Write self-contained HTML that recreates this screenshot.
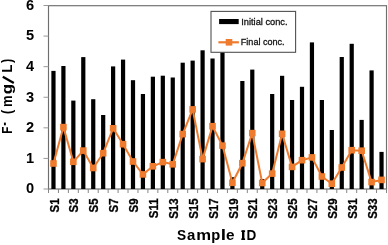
<!DOCTYPE html>
<html><head><meta charset="utf-8"><style>
html,body{margin:0;padding:0;background:#fff;}
body{width:388px;height:245px;overflow:hidden;}
svg{display:block;font-family:"Liberation Sans",sans-serif;}
text{filter:grayscale(1);}
</style></head><body>
<svg width="388" height="245" viewBox="0 0 388 245">
<rect width="388" height="245" fill="#fff"/>
<rect x="48.5" y="5.7" width="338.00" height="183.30" fill="none" stroke="#6e6e6e" stroke-width="1.15"/>
<line x1="43.5" y1="189.00" x2="48.5" y2="189.00" stroke="#999" stroke-width="1"/>
<line x1="43.5" y1="158.42" x2="48.5" y2="158.42" stroke="#999" stroke-width="1"/>
<line x1="43.5" y1="127.83" x2="48.5" y2="127.83" stroke="#999" stroke-width="1"/>
<line x1="43.5" y1="97.25" x2="48.5" y2="97.25" stroke="#999" stroke-width="1"/>
<line x1="43.5" y1="66.67" x2="48.5" y2="66.67" stroke="#999" stroke-width="1"/>
<line x1="43.5" y1="36.08" x2="48.5" y2="36.08" stroke="#999" stroke-width="1"/>
<line x1="43.5" y1="5.50" x2="48.5" y2="5.50" stroke="#999" stroke-width="1"/>
<line x1="48.50" y1="189.0" x2="48.50" y2="193.0" stroke="#868686" stroke-width="1"/>
<line x1="58.44" y1="189.0" x2="58.44" y2="193.0" stroke="#868686" stroke-width="1"/>
<line x1="68.38" y1="189.0" x2="68.38" y2="193.0" stroke="#868686" stroke-width="1"/>
<line x1="78.32" y1="189.0" x2="78.32" y2="193.0" stroke="#868686" stroke-width="1"/>
<line x1="88.26" y1="189.0" x2="88.26" y2="193.0" stroke="#868686" stroke-width="1"/>
<line x1="98.21" y1="189.0" x2="98.21" y2="193.0" stroke="#868686" stroke-width="1"/>
<line x1="108.15" y1="189.0" x2="108.15" y2="193.0" stroke="#868686" stroke-width="1"/>
<line x1="118.09" y1="189.0" x2="118.09" y2="193.0" stroke="#868686" stroke-width="1"/>
<line x1="128.03" y1="189.0" x2="128.03" y2="193.0" stroke="#868686" stroke-width="1"/>
<line x1="137.97" y1="189.0" x2="137.97" y2="193.0" stroke="#868686" stroke-width="1"/>
<line x1="147.91" y1="189.0" x2="147.91" y2="193.0" stroke="#868686" stroke-width="1"/>
<line x1="157.85" y1="189.0" x2="157.85" y2="193.0" stroke="#868686" stroke-width="1"/>
<line x1="167.79" y1="189.0" x2="167.79" y2="193.0" stroke="#868686" stroke-width="1"/>
<line x1="177.74" y1="189.0" x2="177.74" y2="193.0" stroke="#868686" stroke-width="1"/>
<line x1="187.68" y1="189.0" x2="187.68" y2="193.0" stroke="#868686" stroke-width="1"/>
<line x1="197.62" y1="189.0" x2="197.62" y2="193.0" stroke="#868686" stroke-width="1"/>
<line x1="207.56" y1="189.0" x2="207.56" y2="193.0" stroke="#868686" stroke-width="1"/>
<line x1="217.50" y1="189.0" x2="217.50" y2="193.0" stroke="#868686" stroke-width="1"/>
<line x1="227.44" y1="189.0" x2="227.44" y2="193.0" stroke="#868686" stroke-width="1"/>
<line x1="237.38" y1="189.0" x2="237.38" y2="193.0" stroke="#868686" stroke-width="1"/>
<line x1="247.32" y1="189.0" x2="247.32" y2="193.0" stroke="#868686" stroke-width="1"/>
<line x1="257.26" y1="189.0" x2="257.26" y2="193.0" stroke="#868686" stroke-width="1"/>
<line x1="267.21" y1="189.0" x2="267.21" y2="193.0" stroke="#868686" stroke-width="1"/>
<line x1="277.15" y1="189.0" x2="277.15" y2="193.0" stroke="#868686" stroke-width="1"/>
<line x1="287.09" y1="189.0" x2="287.09" y2="193.0" stroke="#868686" stroke-width="1"/>
<line x1="297.03" y1="189.0" x2="297.03" y2="193.0" stroke="#868686" stroke-width="1"/>
<line x1="306.97" y1="189.0" x2="306.97" y2="193.0" stroke="#868686" stroke-width="1"/>
<line x1="316.91" y1="189.0" x2="316.91" y2="193.0" stroke="#868686" stroke-width="1"/>
<line x1="326.85" y1="189.0" x2="326.85" y2="193.0" stroke="#868686" stroke-width="1"/>
<line x1="336.79" y1="189.0" x2="336.79" y2="193.0" stroke="#868686" stroke-width="1"/>
<line x1="346.74" y1="189.0" x2="346.74" y2="193.0" stroke="#868686" stroke-width="1"/>
<line x1="356.68" y1="189.0" x2="356.68" y2="193.0" stroke="#868686" stroke-width="1"/>
<line x1="366.62" y1="189.0" x2="366.62" y2="193.0" stroke="#868686" stroke-width="1"/>
<line x1="376.56" y1="189.0" x2="376.56" y2="193.0" stroke="#868686" stroke-width="1"/>
<line x1="386.50" y1="189.0" x2="386.50" y2="193.0" stroke="#868686" stroke-width="1"/>
<rect x="51.37" y="70.90" width="4.2" height="118.10" fill="#000"/>
<rect x="61.31" y="66.00" width="4.2" height="123.00" fill="#000"/>
<rect x="71.25" y="100.60" width="4.2" height="88.40" fill="#000"/>
<rect x="81.19" y="57.10" width="4.2" height="131.90" fill="#000"/>
<rect x="91.14" y="99.20" width="4.2" height="89.80" fill="#000"/>
<rect x="101.08" y="115.00" width="4.2" height="74.00" fill="#000"/>
<rect x="111.02" y="66.40" width="4.2" height="122.60" fill="#000"/>
<rect x="120.96" y="59.60" width="4.2" height="129.40" fill="#000"/>
<rect x="130.90" y="80.20" width="4.2" height="108.80" fill="#000"/>
<rect x="140.84" y="94.00" width="4.2" height="95.00" fill="#000"/>
<rect x="150.78" y="76.70" width="4.2" height="112.30" fill="#000"/>
<rect x="160.72" y="75.70" width="4.2" height="113.30" fill="#000"/>
<rect x="170.66" y="77.50" width="4.2" height="111.50" fill="#000"/>
<rect x="180.61" y="62.70" width="4.2" height="126.30" fill="#000"/>
<rect x="190.55" y="60.60" width="4.2" height="128.40" fill="#000"/>
<rect x="200.49" y="50.30" width="4.2" height="138.70" fill="#000"/>
<rect x="210.43" y="58.50" width="4.2" height="130.50" fill="#000"/>
<rect x="220.37" y="40.00" width="4.2" height="149.00" fill="#000"/>
<rect x="230.31" y="177.20" width="4.2" height="11.80" fill="#000"/>
<rect x="240.25" y="81.00" width="4.2" height="108.00" fill="#000"/>
<rect x="250.19" y="69.60" width="4.2" height="119.40" fill="#000"/>
<rect x="260.14" y="179.00" width="4.2" height="10.00" fill="#000"/>
<rect x="270.08" y="94.00" width="4.2" height="95.00" fill="#000"/>
<rect x="280.02" y="75.80" width="4.2" height="113.20" fill="#000"/>
<rect x="289.96" y="100.00" width="4.2" height="89.00" fill="#000"/>
<rect x="299.90" y="86.80" width="4.2" height="102.20" fill="#000"/>
<rect x="309.84" y="42.40" width="4.2" height="146.60" fill="#000"/>
<rect x="319.78" y="100.00" width="4.2" height="89.00" fill="#000"/>
<rect x="329.72" y="130.00" width="4.2" height="59.00" fill="#000"/>
<rect x="339.66" y="57.00" width="4.2" height="132.00" fill="#000"/>
<rect x="349.61" y="43.80" width="4.2" height="145.20" fill="#000"/>
<rect x="359.55" y="119.90" width="4.2" height="69.10" fill="#000"/>
<rect x="369.49" y="70.40" width="4.2" height="118.60" fill="#000"/>
<rect x="379.43" y="151.90" width="4.2" height="37.10" fill="#000"/>
<polyline points="53.47,163.50 63.41,127.10 73.35,161.80 83.29,150.60 93.24,168.00 103.18,153.20 113.12,128.30 123.06,144.20 133.00,161.50 142.94,174.40 152.88,166.30 162.82,162.10 172.76,164.30 182.71,134.10 192.65,109.40 202.59,159.10 212.53,126.20 222.47,145.60 232.41,182.80 242.35,163.20 252.29,133.10 262.24,183.00 272.18,173.60 282.12,133.80 292.06,166.90 302.00,160.20 311.94,157.40 321.88,176.50 331.82,183.70 341.76,167.50 351.71,150.20 361.65,150.70 371.59,182.10 381.53,179.90" fill="none" stroke="#EF7B2E" stroke-width="2" stroke-linejoin="round"/>
<rect x="50.17" y="160.20" width="6.6" height="6.6" fill="#EF7B2E"/>
<rect x="60.11" y="123.80" width="6.6" height="6.6" fill="#EF7B2E"/>
<rect x="70.05" y="158.50" width="6.6" height="6.6" fill="#EF7B2E"/>
<rect x="79.99" y="147.30" width="6.6" height="6.6" fill="#EF7B2E"/>
<rect x="89.94" y="164.70" width="6.6" height="6.6" fill="#EF7B2E"/>
<rect x="99.88" y="149.90" width="6.6" height="6.6" fill="#EF7B2E"/>
<rect x="109.82" y="125.00" width="6.6" height="6.6" fill="#EF7B2E"/>
<rect x="119.76" y="140.90" width="6.6" height="6.6" fill="#EF7B2E"/>
<rect x="129.70" y="158.20" width="6.6" height="6.6" fill="#EF7B2E"/>
<rect x="139.64" y="171.10" width="6.6" height="6.6" fill="#EF7B2E"/>
<rect x="149.58" y="163.00" width="6.6" height="6.6" fill="#EF7B2E"/>
<rect x="159.52" y="158.80" width="6.6" height="6.6" fill="#EF7B2E"/>
<rect x="169.46" y="161.00" width="6.6" height="6.6" fill="#EF7B2E"/>
<rect x="179.41" y="130.80" width="6.6" height="6.6" fill="#EF7B2E"/>
<rect x="189.35" y="106.10" width="6.6" height="6.6" fill="#EF7B2E"/>
<rect x="199.29" y="155.80" width="6.6" height="6.6" fill="#EF7B2E"/>
<rect x="209.23" y="122.90" width="6.6" height="6.6" fill="#EF7B2E"/>
<rect x="219.17" y="142.30" width="6.6" height="6.6" fill="#EF7B2E"/>
<rect x="229.11" y="179.50" width="6.6" height="6.6" fill="#EF7B2E"/>
<rect x="239.05" y="159.90" width="6.6" height="6.6" fill="#EF7B2E"/>
<rect x="248.99" y="129.80" width="6.6" height="6.6" fill="#EF7B2E"/>
<rect x="258.94" y="179.70" width="6.6" height="6.6" fill="#EF7B2E"/>
<rect x="268.88" y="170.30" width="6.6" height="6.6" fill="#EF7B2E"/>
<rect x="278.82" y="130.50" width="6.6" height="6.6" fill="#EF7B2E"/>
<rect x="288.76" y="163.60" width="6.6" height="6.6" fill="#EF7B2E"/>
<rect x="298.70" y="156.90" width="6.6" height="6.6" fill="#EF7B2E"/>
<rect x="308.64" y="154.10" width="6.6" height="6.6" fill="#EF7B2E"/>
<rect x="318.58" y="173.20" width="6.6" height="6.6" fill="#EF7B2E"/>
<rect x="328.52" y="180.40" width="6.6" height="6.6" fill="#EF7B2E"/>
<rect x="338.46" y="164.20" width="6.6" height="6.6" fill="#EF7B2E"/>
<rect x="348.41" y="146.90" width="6.6" height="6.6" fill="#EF7B2E"/>
<rect x="358.35" y="147.40" width="6.6" height="6.6" fill="#EF7B2E"/>
<rect x="368.29" y="178.80" width="6.6" height="6.6" fill="#EF7B2E"/>
<rect x="378.23" y="176.60" width="6.6" height="6.6" fill="#EF7B2E"/>
<rect x="211" y="11.4" width="84.6" height="40.9" fill="#fff" stroke="#505050" stroke-width="1.1"/>
<rect x="219.1" y="19.0" width="19.6" height="5.1" fill="#000"/>
<line x1="218.4" y1="42.3" x2="238.9" y2="42.3" stroke="#EF7B2E" stroke-width="2.2"/>
<rect x="225.7" y="39.0" width="6.6" height="6.6" fill="#EF7B2E"/>
<text x="241.3" y="25.1" font-size="9.9" fill="#111" stroke="#111" stroke-width="0.3" textLength="46.2" lengthAdjust="spacingAndGlyphs">Initial conc.</text>
<text x="240.8" y="45.1" font-size="9.9" fill="#111" stroke="#111" stroke-width="0.3" textLength="43.8" lengthAdjust="spacingAndGlyphs">Final conc.</text>
<text x="34.1" y="193.40" font-size="14.6" font-weight="bold" text-anchor="end">0</text>
<text x="34.1" y="162.82" font-size="14.6" font-weight="bold" text-anchor="end">1</text>
<text x="34.1" y="132.23" font-size="14.6" font-weight="bold" text-anchor="end">2</text>
<text x="34.1" y="101.65" font-size="14.6" font-weight="bold" text-anchor="end">3</text>
<text x="34.1" y="71.07" font-size="14.6" font-weight="bold" text-anchor="end">4</text>
<text x="34.1" y="40.48" font-size="14.6" font-weight="bold" text-anchor="end">5</text>
<text x="34.1" y="9.90" font-size="14.6" font-weight="bold" text-anchor="end">6</text>
<text transform="translate(58.57,198.5) rotate(-90) scale(0.9,1)" font-size="12.7" font-weight="bold" stroke="#000" stroke-width="0.3" text-anchor="end">S1</text>
<text transform="translate(78.45,198.5) rotate(-90) scale(0.9,1)" font-size="12.7" font-weight="bold" stroke="#000" stroke-width="0.3" text-anchor="end">S3</text>
<text transform="translate(98.34,198.5) rotate(-90) scale(0.9,1)" font-size="12.7" font-weight="bold" stroke="#000" stroke-width="0.3" text-anchor="end">S5</text>
<text transform="translate(118.22,198.5) rotate(-90) scale(0.9,1)" font-size="12.7" font-weight="bold" stroke="#000" stroke-width="0.3" text-anchor="end">S7</text>
<text transform="translate(138.10,198.5) rotate(-90) scale(0.9,1)" font-size="12.7" font-weight="bold" stroke="#000" stroke-width="0.3" text-anchor="end">S9</text>
<text transform="translate(157.98,198.5) rotate(-90) scale(0.9,1)" font-size="12.7" font-weight="bold" stroke="#000" stroke-width="0.3" text-anchor="end">S11</text>
<text transform="translate(177.86,198.5) rotate(-90) scale(0.9,1)" font-size="12.7" font-weight="bold" stroke="#000" stroke-width="0.3" text-anchor="end">S13</text>
<text transform="translate(197.75,198.5) rotate(-90) scale(0.9,1)" font-size="12.7" font-weight="bold" stroke="#000" stroke-width="0.3" text-anchor="end">S15</text>
<text transform="translate(217.63,198.5) rotate(-90) scale(0.9,1)" font-size="12.7" font-weight="bold" stroke="#000" stroke-width="0.3" text-anchor="end">S17</text>
<text transform="translate(237.51,198.5) rotate(-90) scale(0.9,1)" font-size="12.7" font-weight="bold" stroke="#000" stroke-width="0.3" text-anchor="end">S19</text>
<text transform="translate(257.39,198.5) rotate(-90) scale(0.9,1)" font-size="12.7" font-weight="bold" stroke="#000" stroke-width="0.3" text-anchor="end">S21</text>
<text transform="translate(277.28,198.5) rotate(-90) scale(0.9,1)" font-size="12.7" font-weight="bold" stroke="#000" stroke-width="0.3" text-anchor="end">S23</text>
<text transform="translate(297.16,198.5) rotate(-90) scale(0.9,1)" font-size="12.7" font-weight="bold" stroke="#000" stroke-width="0.3" text-anchor="end">S25</text>
<text transform="translate(317.04,198.5) rotate(-90) scale(0.9,1)" font-size="12.7" font-weight="bold" stroke="#000" stroke-width="0.3" text-anchor="end">S27</text>
<text transform="translate(336.92,198.5) rotate(-90) scale(0.9,1)" font-size="12.7" font-weight="bold" stroke="#000" stroke-width="0.3" text-anchor="end">S29</text>
<text transform="translate(356.81,198.5) rotate(-90) scale(0.9,1)" font-size="12.7" font-weight="bold" stroke="#000" stroke-width="0.3" text-anchor="end">S31</text>
<text transform="translate(376.69,198.5) rotate(-90) scale(0.9,1)" font-size="12.7" font-weight="bold" stroke="#000" stroke-width="0.3" text-anchor="end">S33</text>
<text transform="translate(12.0,133.83) rotate(-90) scale(0.831,1)" font-size="14" font-weight="bold">F</text>
<rect x="3.95" y="122.6" width="1.9" height="2.7" fill="#000"/>
<text transform="translate(12.0,114.14) rotate(-90) scale(0.988,1)" font-size="14" font-weight="bold">(</text>
<text transform="translate(12.0,107.02) rotate(-90) scale(0.939,1)" font-size="14" font-weight="bold">m</text>
<text transform="translate(12.0,94.34) rotate(-90) scale(1.207,1)" font-size="14" font-weight="bold">g</text>
<line x1="13.8" y1="82.9" x2="2.8000000000000007" y2="76.7" stroke="#000" stroke-width="2.3"/>
<text transform="translate(12.0,72.41) rotate(-90) scale(0.919,1)" font-size="14" font-weight="bold">L</text>
<text transform="translate(12.0,62.96) rotate(-90) scale(0.912,1)" font-size="14" font-weight="bold">)</text>
<text transform="translate(177.05,240.0) scale(0.978,1)" font-size="14" font-weight="bold">S</text>
<text transform="translate(187.11,240.0) scale(1.072,1)" font-size="14" font-weight="bold">a</text>
<text transform="translate(196.25,240.0) scale(1.192,1)" font-size="14" font-weight="bold">m</text>
<text transform="translate(211.18,240.0) scale(1.049,1)" font-size="14" font-weight="bold">p</text>
<text transform="translate(220.72,240.0) scale(1.356,1)" font-size="14" font-weight="bold">l</text>
<text transform="translate(225.95,240.0) scale(1.094,1)" font-size="14" font-weight="bold">e</text>
<rect x="242.0" y="230.4" width="2.4" height="9.6" fill="#000"/>
<rect x="241.3" y="230.4" width="3.8" height="1.6" fill="#000"/>
<rect x="241.3" y="238.4" width="3.8" height="1.6" fill="#000"/>
<text transform="translate(246.54,240.0) scale(0.967,1)" font-size="14" font-weight="bold">D</text>
</svg>
</body></html>
